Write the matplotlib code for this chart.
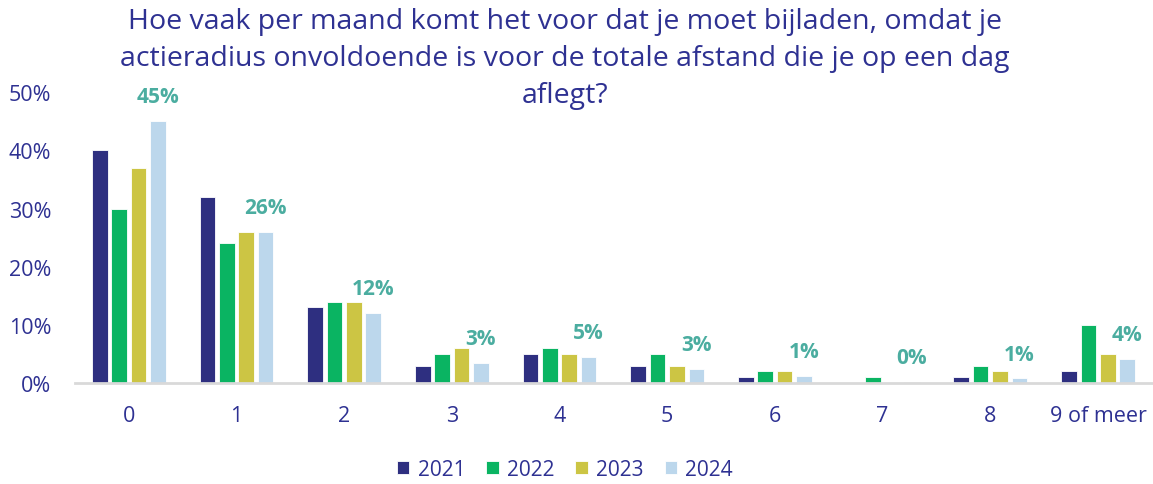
import numpy as np
import matplotlib.pyplot as plt

categories = ['0', '1', '2', '3', '4', '5', '6', '7', '8', '9 of meer']
years = ['2021', '2022', '2023', '2024']
v2021 = [40, 32, 13, 3, 5, 3, 1, 0, 1, 2]
v2022 = [30, 24, 14, 5, 6, 5, 2, 1, 3, 10]
v2023 = [37, 26, 14, 6, 5, 3, 2, 0, 2, 5]
v2024 = [45, 26, 12, 3.4, 4.5, 2.5, 1.2, 0.2, 0.8, 4.2]
labels_2024 = ['45%', '26%', '12%', '3%', '5%', '3%', '1%', '0%', '1%', '4%']
title_lines = ['Hoe vaak per maand komt het voor dat je moet bijladen, omdat je',
               'actieradius onvoldoende is voor de totale afstand die je op een dag',
               'aflegt?']

colors = ['#2E2F80', '#0AB462', '#CCC544', '#BCD7EC']
navy = '#2E3192'
teal = '#4BADA0'

plt.rcParams['font.family'] = ['Open Sans', 'DejaVu Sans']

fig = plt.figure(figsize=(11.53, 4.85), dpi=100)
ax = fig.add_axes([0.065, 0.208, 0.934, 0.6])

x = np.arange(len(categories))
step = 0.18
width = 0.145
series = [v2021, v2022, v2023, v2024]
for i, vals in enumerate(series):
    ax.bar(x + (i - 1.5) * step, np.array(vals) / 100, width,
           color=colors[i], edgecolor='white', linewidth=0.6, label=years[i])

for xi, v, lab in zip(x, v2024, labels_2024):
    ax.annotate(lab, (xi + 1.5 * step, v / 100), xytext=(0, 10), textcoords='offset points',
                ha='center', va='bottom', color=teal, fontsize=15, fontweight='bold')

ax.set_xlim(-0.5, 9.5)
ax.set_ylim(0, 0.5)
ax.set_yticks(np.arange(0, 0.51, 0.1))
ax.set_yticklabels(['%d%%' % (t * 100) for t in np.arange(0, 0.51, 0.1)])
ax.set_xticks(x)
ax.set_xticklabels(categories)
ax.tick_params(axis='both', length=0, labelsize=15.5, labelcolor=navy)
ax.tick_params(axis='x', pad=16)
ax.tick_params(axis='y', pad=17)
for s in ['top', 'right', 'left']:
    ax.spines[s].set_visible(False)
ax.spines['bottom'].set_color('#D9D9D9')
ax.spines['bottom'].set_linewidth(2)

# title as three centred lines
for line, ypx in zip(title_lines, [22, 59, 96]):
    fig.text(0.49, 1 - ypx / 485, line, ha='center', va='center',
             fontsize=20.5, color=navy)

fig.legend(loc='lower center', bbox_to_anchor=(0.49, -0.03), ncol=4, frameon=False,
           fontsize=15, handlelength=0.6, handleheight=0.6, columnspacing=1.0,
           handletextpad=0.4, labelcolor=navy)

fig.savefig('out.png', dpi=100)
